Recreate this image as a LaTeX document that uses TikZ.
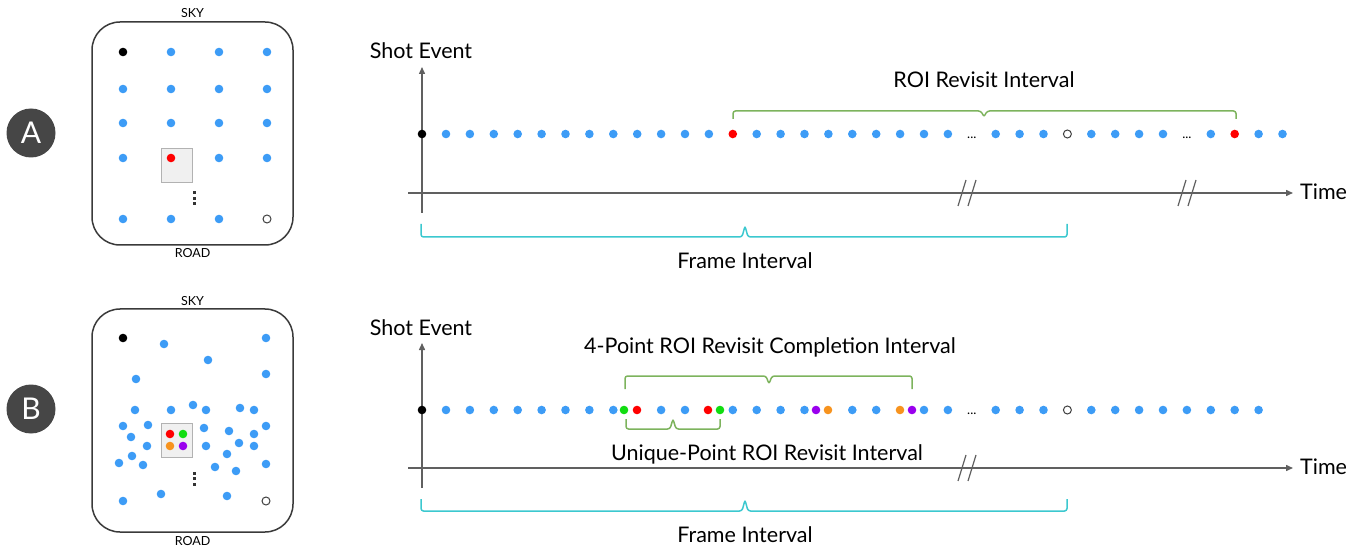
\documentclass[tikz,border=0pt]{standalone}
\usepackage{fontspec}
\setmainfont{Lato}
\usetikzlibrary{arrows.meta}
\definecolor{dotblue}{HTML}{3D9CF6}
\definecolor{dotred}{HTML}{FF0000}
\definecolor{dotgreen}{HTML}{11DD11}
\definecolor{dotorange}{HTML}{F7931E}
\definecolor{dotpurple}{HTML}{9A00EE}
\definecolor{bracegreen}{HTML}{7DB35D}
\definecolor{bracecyan}{HTML}{3CC8CF}
\definecolor{axisgray}{HTML}{606060}
\definecolor{circgray}{HTML}{464646}
\definecolor{framegray}{HTML}{3A3A3A}
\tikzset{
  dotb/.style={circle,fill=dotblue,draw=none,inner sep=0pt,minimum size=8.6pt},
  dotk/.style={dotb,fill=black},
  dotr/.style={dotb,fill=dotred},
  dotg/.style={dotb,fill=dotgreen},
  doto/.style={dotb,fill=dotorange},
  dotp/.style={dotb,fill=dotpurple},
  doto2/.style={dotb,fill=white,draw=black!75,line width=1pt,minimum size=8pt},
  lbl/.style={font=\fontsize{21.5}{25}\selectfont,inner sep=0pt},
  small/.style={font=\fontsize{12.5}{14}\selectfont,inner sep=0pt},
  ell/.style={font=\fontsize{13}{14}\selectfont,inner sep=0pt},
  axis/.style={draw=axisgray,line width=1.4pt},
  axarrow/.style={axis,-{Triangle[length=7pt,width=6pt]}},
  brg/.style={draw=bracegreen,line width=1.5pt,rounded corners=2.5pt},
  brc/.style={draw=bracecyan,line width=1.5pt,rounded corners=2.5pt},
  panel/.style={draw=framegray,line width=1.5pt,rounded corners=28pt},
  roi/.style={fill=black!6,draw=black!30,line width=0.8pt},
  vdot/.style={fill=black!80,draw=none,minimum size=3pt,inner sep=0pt,rectangle},
  badge/.style={circle,fill=circgray,minimum size=49pt,inner sep=0pt,text=white,font=\fontsize{30}{30}\selectfont},
  brk/.style={draw=axisgray,line width=1.2pt}
}
\begin{document}
\begin{tikzpicture}[x=1pt,y=-1pt]
\useasboundingbox (0,0) rectangle (1361,548);

% ---------- badges ----------
\node[badge] (bA) at (31,133) {A};
\node[badge] (bB) at (31,409) {B};

% ---------- panel A ----------
\node[panel,minimum width=201pt,minimum height=223pt,inner sep=0pt] (pA) at (192.5,133.5) {};
\node[small] (skyA) at (192.5,13) {SKY};
\node[small] (roadA) at (192.5,253) {ROAD};
\node[roi,minimum width=31pt,minimum height=34pt,inner sep=0pt] (roiA) at (176.5,165) {};
\node[dotk] (gAk) at (123,52) {};
\foreach \i/\p in {1/{171,52},2/{219,52},3/{267,52},
                   4/{123,89},5/{171,89},6/{219,89},7/{267,89},
                   8/{123,123},9/{171,123},10/{219,123},11/{267,123},
                   12/{123,158},13/{219,158},14/{267,158},
                   15/{123,219},16/{171,219},17/{219,219}}{
  \node[dotb] (gA\i) at (\p) {};
}
\node[dotr] (redA) at (171,158) {};
\node[doto2] (openA) at (267,219) {};
\node[vdot] (vA1) at (194,193) {};
\node[vdot] (vA2) at (194,198.5) {};
\node[vdot] (vA3) at (194,204) {};

% ---------- panel B ----------
\node[panel,minimum width=201pt,minimum height=223pt,inner sep=0pt] (pB) at (192.5,420.5) {};
\node[small] (skyB) at (192.5,301) {SKY};
\node[small] (roadB) at (192.5,541) {ROAD};
\node[roi,minimum width=31pt,minimum height=34pt,inner sep=0pt] (roiB) at (176.5,440) {};
\node[dotk] (kB) at (123,338) {};
\foreach \i/\p in {1/{164,344},2/{266,338},3/{208,360},4/{136,379},5/{266,374},6/{135,410},7/{171,410},8/{193,405},9/{206,410},10/{240,408},11/{254,410},12/{123,426},13/{148,425},14/{204,428},15/{229,431},16/{254,434},17/{266,426},18/{131,437},19/{147,446},20/{206,446},21/{239,443},22/{254,446},23/{132,456},24/{119,463},25/{143,465},26/{227,454},27/{215,467},28/{236,471},29/{266,464},30/{123,501},31/{161,494},32/{227,496}}{
  \node[dotb] (sB\i) at (\p) {};
}
\node[dotr] (qB1) at (170,434) {};
\node[dotg] (qB2) at (183,434) {};
\node[doto] (qB3) at (170,446) {};
\node[dotp] (qB4) at (183,446) {};
\node[doto2] (openB) at (266,501) {};
\node[vdot] (vB1) at (194,473) {};
\node[vdot] (vB2) at (194,478.5) {};
\node[vdot] (vB3) at (194,484) {};

% ---------- timeline A ----------
\coordinate (axAb) at (422,213);
\coordinate (axAt) at (422,67);
\coordinate (axAl) at (408,193);
\coordinate (axAr) at (1293,193);
\draw[axarrow] (axAb) -- (axAt);
\draw[axarrow] (axAl) -- (axAr);
\node[lbl] (shotA) at (421,51) {Shot Event};
\node[lbl,anchor=west] (timeA) at (1300,192) {Time};
\foreach \bx/\nm in {967/a1,1187/a2}{
  \coordinate (brk\nm) at (\bx,193);
  \draw[brk] ([xshift=-9pt,yshift=-13pt]brk\nm) -- ([xshift=-1pt,yshift=13pt]brk\nm);
  \draw[brk] ([xshift=1pt,yshift=-13pt]brk\nm) -- ([xshift=9pt,yshift=13pt]brk\nm);
}
\node[dotk] (tA) at (422,134) {};
\foreach \k in {0,...,35}{
  \ifnum\k=12 \node[dotr] (tA\k) at ({446+23.9*\k},134) {};
  \else\ifnum\k=22 \node[ell] (tA\k) at ({446+23.9*\k},138) {...};
  \else\ifnum\k=31 \node[ell] (tA\k) at ({446+23.9*\k},138) {...};
  \else\ifnum\k=33 \node[dotr] (tA\k) at ({446+23.9*\k},134) {};
  \else\ifnum\k=26 \node[doto2] (tA\k) at ({446+23.9*\k},134) {};
  \else \node[dotb] (tA\k) at ({446+23.9*\k},134) {};
  \fi\fi\fi\fi\fi
}
% ROI revisit brace
\coordinate (rL) at (733,119);
\coordinate (rR) at (1236,119);
\coordinate (rM) at (984,111);
\draw[brg] (rL) |- ([xshift=-3pt]rM) -- ([yshift=-6pt]rM) -- ([xshift=3pt]rM) -| (rR);
\node[lbl] (roiTxt) at (984,80) {ROI Revisit Interval};
% frame interval brace
\coordinate (fL) at (421,224);
\coordinate (fR) at (1067,224);
\coordinate (fM) at (745,237);
\draw[brc] (fL) |- ([xshift=-3pt]fM) -- ([yshift=11pt]fM) -- ([xshift=3pt]fM) -| (fR);
\node[lbl] (frameA) at (745,261) {Frame Interval};

% ---------- timeline B ----------
\coordinate (axBb) at (422,488);
\coordinate (axBt) at (422,343);
\coordinate (axBl) at (408,468);
\coordinate (axBr) at (1293,468);
\draw[axarrow] (axBb) -- (axBt);
\draw[axarrow] (axBl) -- (axBr);
\node[lbl] (shotB) at (421,328) {Shot Event};
\node[lbl,anchor=west] (timeB) at (1300,467) {Time};
\coordinate (brkb1) at (967,468);
\draw[brk] ([xshift=-9pt,yshift=-13pt]brkb1) -- ([xshift=-1pt,yshift=13pt]brkb1);
\draw[brk] ([xshift=1pt,yshift=-13pt]brkb1) -- ([xshift=9pt,yshift=13pt]brkb1);
\node[dotk] (tB) at (422,410) {};
\foreach \k in {0,...,34}{
  \ifnum\k=8 \relax
  \else\ifnum\k=11 \relax
  \else\ifnum\k=16 \relax
  \else\ifnum\k=19 \relax
  \else\ifnum\k=22 \node[ell] (tB\k) at ({446+23.9*\k},414) {...};
  \else\ifnum\k=26 \node[doto2] (tB\k) at ({446+23.9*\k},410) {};
  \else \node[dotb] (tB\k) at ({446+23.9*\k},410) {};
  \fi\fi\fi\fi\fi\fi
}
\node[dotg] (cB1) at (624,410) {};
\node[dotr] (cB2) at (637,410) {};
\node[dotr] (cB3) at (708,410) {};
\node[dotg] (cB4) at (720,410) {};
\node[dotp] (cB5) at (816,410) {};
\node[doto] (cB6) at (828,410) {};
\node[doto] (cB7) at (900,410) {};
\node[dotp] (cB8) at (912,410) {};
% 4-point brace
\coordinate (pL) at (625,389);
\coordinate (pR) at (912,389);
\coordinate (pM) at (769,376);
\draw[brg] (pL) |- ([xshift=-3pt]pM) -- ([yshift=-8pt]pM) -- ([xshift=3pt]pM) -| (pR);
\node[lbl] (fourTxt) at (770,347) {4-Point ROI Revisit Completion Interval};
% unique-point brace
\coordinate (uL) at (626,419);
\coordinate (uR) at (720,419);
\coordinate (uM) at (673,429);
\draw[brg] (uL) |- ([xshift=-3pt]uM) -- ([yshift=10pt]uM) -- ([xshift=3pt]uM) -| (uR);
\node[lbl] (uniTxt) at (767,454) {Unique-Point ROI Revisit Interval};
% frame interval brace B
\coordinate (gL) at (421,499);
\coordinate (gR) at (1067,499);
\coordinate (gM) at (745,511);
\draw[brc] (gL) |- ([xshift=-3pt]gM) -- ([yshift=11pt]gM) -- ([xshift=3pt]gM) -| (gR);
\node[lbl] (frameB) at (745,535) {Frame Interval};
\end{tikzpicture}
\end{document}
